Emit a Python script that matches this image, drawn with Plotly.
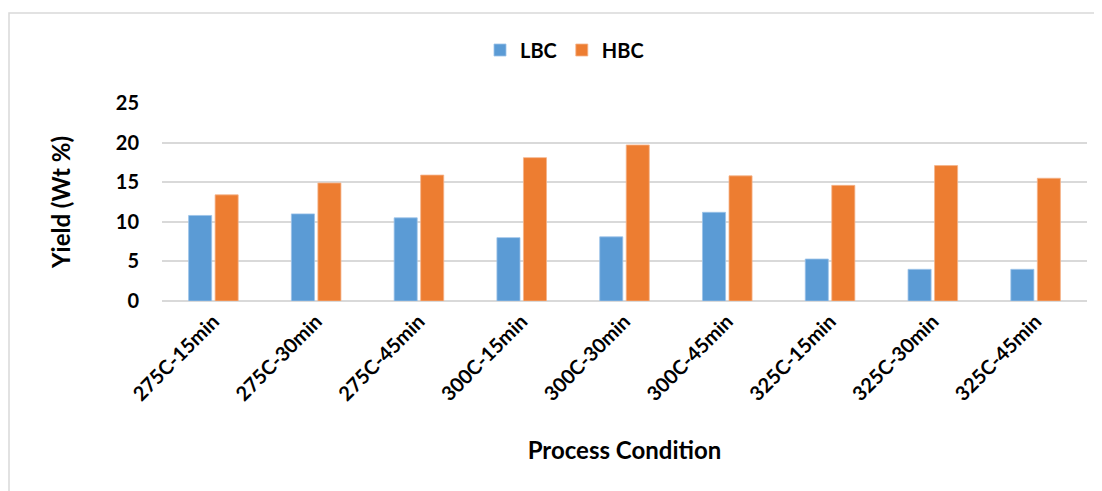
import plotly.graph_objects as go

categories = ["275C-15min", "275C-30min", "275C-45min", "300C-15min", "300C-30min",
              "300C-45min", "325C-15min", "325C-30min", "325C-45min"]
lbc = [10.8, 11.0, 10.5, 8.0, 8.1, 11.2, 5.3, 4.0, 4.0]
hbc = [13.4, 14.9, 15.9, 18.1, 19.7, 15.8, 14.6, 17.1, 15.5]
y_ticks = [0, 5, 10, 15, 20, 25]

# page body has an 8px margin, so the figure is sized to fit the window
OFF = 8
W, H = 1102 - OFF, 491 - OFF
ML, MR, MT, MB = 162 - OFF, 15, 103 - OFF, 190
FONT = "Lato"

fig = go.Figure()
fig.add_trace(go.Bar(name="LBC", x=categories, y=lbc,
                     marker=dict(color="#5B9BD5", line=dict(color="#9cc3e8", width=0.8))))
fig.add_trace(go.Bar(name="HBC", x=categories, y=hbc,
                     marker=dict(color="#ED7D31", line=dict(color="#f5b48a", width=0.8))))

pw = W - ML - MR
ph = H - MT - MB
# outer chart border (light gray)
fig.add_shape(type="rect", xref="paper", yref="paper",
              x0=(9 - OFF - ML) / pw, x1=(W + 20 - ML) / pw,
              y0=(H - MB - (H + 20)) / ph, y1=(H - MB - (13 - OFF)) / ph,
              line=dict(color="#d9d9d9", width=1.5), fillcolor="rgba(0,0,0,0)", layer="below")

fig.update_layout(
    width=W, height=H,
    margin=dict(l=ML, r=MR, t=MT, b=MB, autoexpand=False),
    paper_bgcolor="white", plot_bgcolor="white",
    barmode="group", bargap=0.484, bargroupgap=0.13,
    font=dict(family=FONT, color="black", size=20),
    legend=dict(orientation="h", x=0.5 - 60 / pw, xanchor="center", y=(H - MB - (50 - OFF)) / ph,
                yanchor="middle",
                font=dict(family=FONT, size=20, color="black", weight="bold"),
                itemwidth=30, tracegroupgap=0, bgcolor="rgba(0,0,0,0)"),
    showlegend=True,
)
fig.update_yaxes(range=[0, 25], tickvals=y_ticks, showgrid=True, gridcolor="#d9d9d9", gridwidth=1.5,
                 zeroline=True, zerolinecolor="#d9d9d9", zerolinewidth=1.5, showline=False,
                 ticks="", ticklabelstandoff=22,
                 tickfont=dict(family=FONT, size=20, color="black", weight="bold"),
                 title=dict(text="Yield (Wt %)", standoff=38,
                            font=dict(family=FONT, size=24, color="black", weight="bold")),
                 automargin=False, fixedrange=True)
fig.update_xaxes(tickangle=-45, ticks="", showline=False, showgrid=False,
                 ticklabelstandoff=4,
                 tickfont=dict(family=FONT, size=20, color="black", weight="bold"),
                 title=dict(text="Process Condition", standoff=38,
                            font=dict(family=FONT, size=24, color="black", weight="bold")),
                 automargin=False, fixedrange=True)

fig.write_html("out.html")
